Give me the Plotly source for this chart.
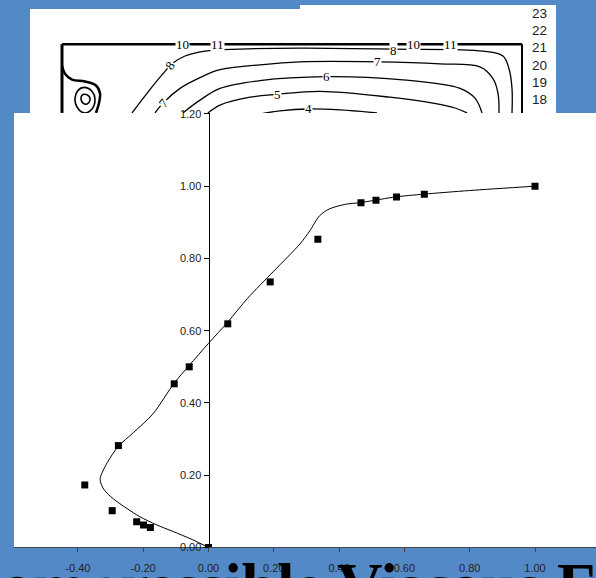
import plotly.graph_objects as go

W, H = 596, 578
BLUE = "#5389C6"

# ---------------- main chart data ----------------
pts_x = [1.00, 0.661, 0.576, 0.513, 0.467, 0.335, 0.189, 0.059, -0.059, -0.105,
         -0.276, -0.379, -0.295, -0.220, -0.199, -0.178, 0.00]
pts_y = [1.000, 0.978, 0.970, 0.961, 0.954, 0.853, 0.735, 0.619, 0.500, 0.453,
         0.282, 0.173, 0.102, 0.071, 0.062, 0.055, 0.000]

curve_x = [1.00, 0.80, 0.66, 0.57, 0.51, 0.46, 0.42, 0.37, 0.34, 0.31, 0.28, 0.20,
           0.12, 0.06, 0.00, -0.06, -0.105, -0.17, -0.23, -0.276, -0.31, -0.332,
           -0.32, -0.292, -0.25, -0.21, -0.16, -0.108, -0.05, 0.00]
curve_y = [1.000, 0.988, 0.978, 0.970, 0.961, 0.954, 0.950, 0.937, 0.918, 0.876,
           0.840, 0.765, 0.690, 0.625, 0.565, 0.503, 0.455, 0.370, 0.318, 0.280,
           0.235, 0.189, 0.160, 0.135, 0.108, 0.085, 0.063, 0.044, 0.022, 0.000]

x_ticks = [-0.6, -0.4, -0.2, 0.0, 0.2, 0.4, 0.6, 0.8, 1.0]
x_ticktext = ["-0.60", "-0.40", "-0.20", "0.00", "0.20", "0.40", "0.60", "0.80", "1.00"]
y_ticks = [0.0, 0.2, 0.4, 0.6, 0.8, 1.0, 1.2]
y_ticktext = ["0.00", "0.20", "0.40", "0.60", "0.80", "1.00", "1.20"]

# ---------------- background contour fragment (image units) ----------------
box_top_x = [62, 522]
box_top_y = [40, 40]
wall_left_x = [62, 62]
wall_left_y = [40, 110]
wall_right_x = [522, 522]
wall_right_y = [40, 110]

c8_x = [132, 147, 163, 172, 185, 205, 240, 300, 393, 483, 503, 509, 512, 512]
c8_y = [110, 90, 70, 60, 52, 47, 45, 44, 45, 47, 52, 65, 85, 110]
c7_x = [155, 163, 180, 200, 220, 260, 300, 377, 440, 480, 493, 498, 499]
c7_y = [110, 100, 85, 74, 66, 61, 58, 58, 60, 63, 75, 90, 110]
c6_x = [183, 200, 220, 260, 326, 400, 460, 475, 482]
c6_y = [110, 97, 85, 77, 73, 76, 85, 95, 110]
c5_x = [208, 220, 250, 277, 320, 390, 433, 455, 467]
c5_y = [110, 102, 94, 91, 88, 94, 100, 105, 110]
c4_x = [255, 280, 308, 340, 377]
c4_y = [112, 108, 106, 107, 110]

vx_outer = [62, 65, 72, 85, 96, 100, 99, 96]
vy_outer = [62, 70, 76, 78, 82, 90, 100, 110]
vx_loop1 = [84, 92, 95, 92, 84, 77, 75, 78, 84]
vy_loop1 = [84, 88, 96, 106, 110, 104, 95, 87, 84]
vx_loop2 = [85, 89, 90, 87, 83, 81, 82, 85]
vy_loop2 = [91, 93, 97, 101, 100, 96, 92, 91]

c_labels = ["10", "11", "10", "11", "8", "8", "7", "7", "6", "5", "4"]
c_lab_x = [182, 217, 413, 450, 170, 393, 163, 377, 326, 277, 308]
c_lab_y = [40, 40, 40, 40, 62, 46, 100, 58, 73, 91, 106]
c_lab_ang = [0, 0, 0, 0, -55, 0, -50, 0, 0, 0, 0]

side_ticks = [18, 19, 20, 21, 22, 23]

title_text = "Incompressible Viscous Flow"

fig = go.Figure()

# contour fragment traces
def cline(xs, ys, w=1.2, shape="spline"):
    fig.add_trace(go.Scatter(x=xs, y=ys, xaxis="x2", yaxis="y2", mode="lines",
                             line=dict(color="black", width=w, shape=shape),
                             hoverinfo="skip", showlegend=False))

cline(box_top_x, box_top_y, 2.6, "linear")
cline(wall_left_x, wall_left_y, 3, "linear")
cline(wall_right_x, wall_right_y, 2, "linear")
for xs, ys in [(c8_x, c8_y), (c7_x, c7_y), (c6_x, c6_y), (c5_x, c5_y), (c4_x, c4_y)]:
    cline(xs, ys, 1.3)
cline(vx_outer, vy_outer, 2.5)
cline(vx_loop1, vy_loop1, 1.6)
cline(vx_loop2, vy_loop2, 1.6)

# invisible trace so the side scale (y3) gets drawn
fig.add_trace(go.Scatter(x=[300], y=[20], xaxis="x2", yaxis="y3", mode="markers",
                         marker=dict(size=1, color="rgba(0,0,0,0)"),
                         hoverinfo="skip", showlegend=False))

# main chart traces
fig.add_trace(go.Scatter(x=curve_x, y=curve_y, mode="lines",
                         line=dict(color="black", width=1, shape="spline", smoothing=0.8),
                         hoverinfo="skip", showlegend=False))
fig.add_trace(go.Scatter(x=pts_x, y=pts_y, mode="markers",
                         marker=dict(symbol="square", size=7, color="black"),
                         hoverinfo="skip", showlegend=False))

annotations = []
for t, x, y, a in zip(c_labels, c_lab_x, c_lab_y, c_lab_ang):
    annotations.append(dict(text=t, x=x, y=y, xref="x2", yref="y2", showarrow=False,
                            textangle=a, bgcolor="white", borderpad=0,
                            font=dict(family="Liberation Serif", size=13, color="black")))
annotations.append(dict(text="<b>" + title_text + "</b>", xref="paper", yref="paper",
                        x=-88 / W, y=(H - 555) / H, xanchor="left", yanchor="top",
                        showarrow=False,
                        font=dict(family="Liberation Serif", size=63, color="black")))

shapes = [
    dict(type="rect", xref="paper", yref="paper", x0=30 / W, x1=556 / W,
         y0=(H - 110) / H, y1=(H - 4) / H, fillcolor="white", line=dict(width=0), layer="below"),
    dict(type="rect", xref="paper", yref="paper", x0=300 / W, x1=556 / W,
         y0=(H - 4) / H, y1=1, fillcolor="white", line=dict(width=0), layer="below"),
    dict(type="rect", xref="paper", yref="paper", x0=14 / W, x1=1,
         y0=25 / H, y1=(H - 110) / H, fillcolor="white", line=dict(width=0), layer="below"),
    dict(type="rect", xref="paper", yref="paper", x0=0, x1=12.9 / W,
         y0=0, y1=24 / H, fillcolor=BLUE, line=dict(width=0), layer="above"),
]

tickfont = dict(family="Liberation Sans, Arial", size=11, color="#222")
xmin = (14 - 208.5) / 326.5
xmax = (596 - 208.5) / 326.5
ymax = (553 - 110) / 368.3

fig.update_layout(
    width=W, height=H, margin=dict(l=0, r=0, t=0, b=0),
    paper_bgcolor=BLUE, plot_bgcolor="rgba(0,0,0,0)",
    showlegend=False,
    xaxis=dict(domain=[14 / W, 1], range=[xmin, xmax], anchor="y",
               showgrid=False, zeroline=False, showline=True, linecolor="#444",
               linewidth=1, ticks="outside", ticklen=4, tickcolor="#444",
               ticklabelstandoff=6,
               tickvals=x_ticks, ticktext=x_ticktext, tickfont=tickfont),
    yaxis=dict(domain=[25 / H, (H - 110) / H], range=[0, ymax], anchor="free",
               position=208.5 / W, showgrid=False, zeroline=False, showline=True,
               linecolor="black", linewidth=1, ticks="outside", ticklen=5,
               tickcolor="black", tickvals=y_ticks, ticktext=y_ticktext,
               tickfont=tickfont),
    xaxis2=dict(domain=[30 / W, 556 / W], range=[30, 556], anchor="y2", visible=False),
    yaxis2=dict(domain=[(H - 110) / H, (H - 4) / H], range=[110, 4], anchor="x2",
                visible=False),
    yaxis3=dict(overlaying="y2", anchor="free", position=522 / W, side="right",
                range=[22.14 - (110 - 23.3) / 17.7, 22.14 + (23.3 - 4) / 17.7],
                showgrid=False, zeroline=False, showline=False, ticks="",
                tickvals=side_ticks, ticklabelstandoff=9,
                tickfont=dict(family="Liberation Sans, Arial", size=13.5, color="#222")),
    annotations=annotations,
    shapes=shapes,
)

fig.write_html("out.html")
